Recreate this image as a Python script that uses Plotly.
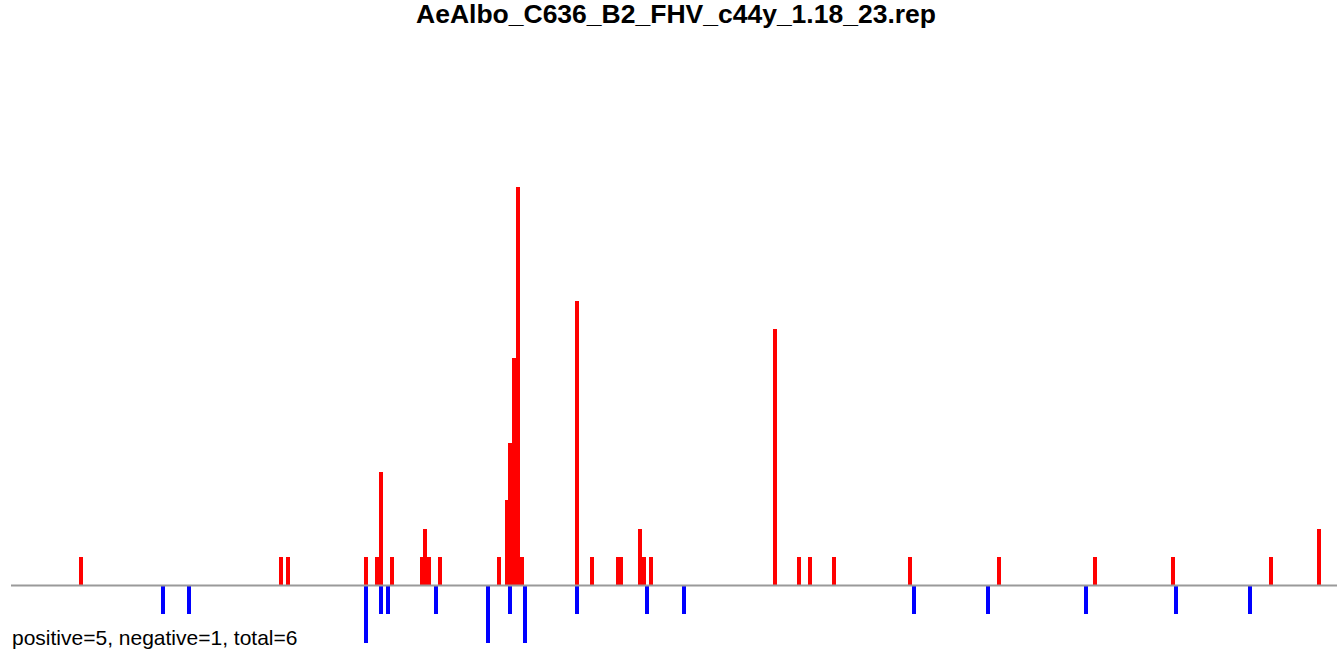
import plotly.graph_objects as go

title_text = "AeAlbo_C636_B2_FHV_c44y_1.18_23.rep"
summary_text = "positive=5, negative=1, total=6"
seq_length = 358.4

pos_positions = [19, 73, 75, 96, 99, 100, 103, 111, 112, 113, 116, 132, 134, 135, 136,
                 137, 138, 153, 157, 164, 165, 170, 171, 173, 206.5, 213, 216, 222.5, 243,
                 267, 293, 314, 340.5, 353.5]
pos_counts = [1, 1, 1, 1, 1, 4, 1, 1, 2, 1, 1, 1, 3, 5, 8,
              14, 1, 10, 1, 1, 1, 2, 1, 1, 9, 1, 1, 1, 1,
              1, 1, 1, 1, 2]

neg_positions = [41, 48, 96, 100, 102, 115, 129, 135, 139, 153, 172, 182, 244, 264,
                 290.5, 315, 335]
neg_counts = [1, 1, 2, 1, 1, 1, 2, 1, 2, 1, 1, 1, 1, 1,
              1, 1, 1]

W, H = 1337, 649
unit_px = 28.5
base_px = 585.5

fig = go.Figure()
fig.add_trace(go.Bar(x=pos_positions, y=pos_counts, width=1.08,
                     marker=dict(color="#FF0000", line=dict(width=0)), showlegend=False))
fig.add_trace(go.Bar(x=neg_positions, y=[-v for v in neg_counts], width=1.08,
                     marker=dict(color="#0000FF", line=dict(width=0)), showlegend=False))

y_top = base_px / unit_px
y_bot = -(H - base_px) / unit_px

fig.add_shape(type="line", xref="paper", yref="y", x0=0, x1=1, y0=0, y1=0,
              line=dict(color="#9a9a9a", width=2))

fig.add_annotation(text="<b>" + title_text + "</b>", xref="paper", yref="paper",
                   x=(676 - 11) / 1326, y=1 - 14 / H, xanchor="center", yanchor="middle",
                   showarrow=False, borderpad=0,
                   font=dict(family="Liberation Sans, Arial", size=26.5, color="black"))
fig.add_annotation(text=summary_text, xref="paper", yref="paper",
                   x=0, y=1 - 637 / H, xanchor="left", yanchor="middle",
                   showarrow=False, borderpad=0,
                   font=dict(family="Liberation Sans, Arial", size=21, color="black"))

fig.update_layout(
    width=W, height=H,
    margin=dict(l=11, r=0, t=0, b=0, pad=0),
    paper_bgcolor="white", plot_bgcolor="white",
    barmode="overlay", bargap=0,
    xaxis=dict(range=[0, seq_length], visible=False, showgrid=False, zeroline=False),
    yaxis=dict(range=[y_bot, y_top], visible=False, showgrid=False, zeroline=False),
)

fig.write_html("out.html", config={"displayModeBar": False},
               post_script="document.body.style.margin='0px';document.body.style.overflow='hidden';")
